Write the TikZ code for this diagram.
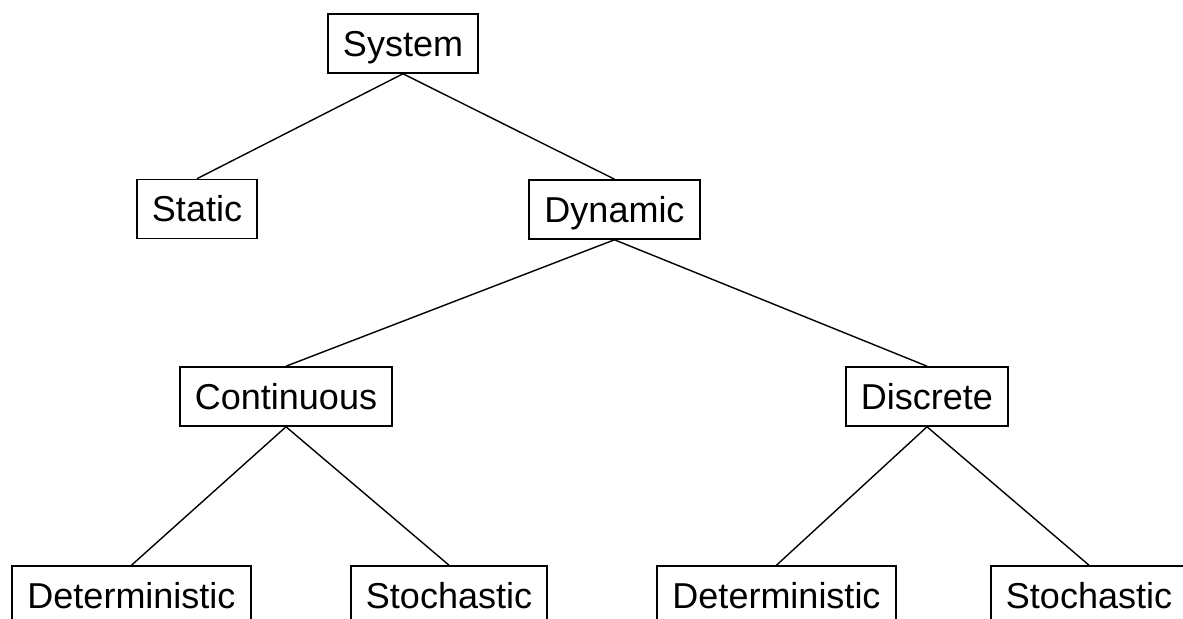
\documentclass[tikz,border=0pt]{standalone}
\usepackage{fontspec}
\setmainfont{Liberation Sans}

\begin{document}
\begin{tikzpicture}[x=0.5pt,y=-0.5pt,
    box/.style={draw,line width=0.8pt,inner xsep=7.6pt,inner ysep=0pt,
      minimum height=29.5pt,text height=13pt,text depth=0pt,
      font=\fontsize{18}{20}\selectfont},
    link/.style={line width=0.7pt}]
  \useasboundingbox (0,0) rectangle (1183,619);
  % levels of the tree
  \node[box] (system) at (403,43.5) {System};
  \node[box] (static) at (197,209) {Static};
  \node[box] (dynamic) at (614.5,209.5) {Dynamic};
  \node[box] (cont) at (286,396.5) {Continuous};
  \node[box] (disc) at (927,396.5) {Discrete};
  \node[box] (cdet) at (131.5,595.5) {Deterministic};
  \node[box] (csto) at (449,595.5) {Stochastic};
  \node[box] (ddet) at (776.5,595.5) {Deterministic};
  \node[box] (dsto) at (1089,595.5) {Stochastic};
  % branches
  \draw[link] (system.south)--(static.north);
  \draw[link] (system.south)--(dynamic.north);
  \draw[link] (dynamic.south)--(cont.north);
  \draw[link] (dynamic.south)--(disc.north);
  \draw[link] (cont.south)--(cdet.north);
  \draw[link] (cont.south)--(csto.north);
  \draw[link] (disc.south)--(ddet.north);
  \draw[link] (disc.south)--(dsto.north);
\end{tikzpicture}
\end{document}
